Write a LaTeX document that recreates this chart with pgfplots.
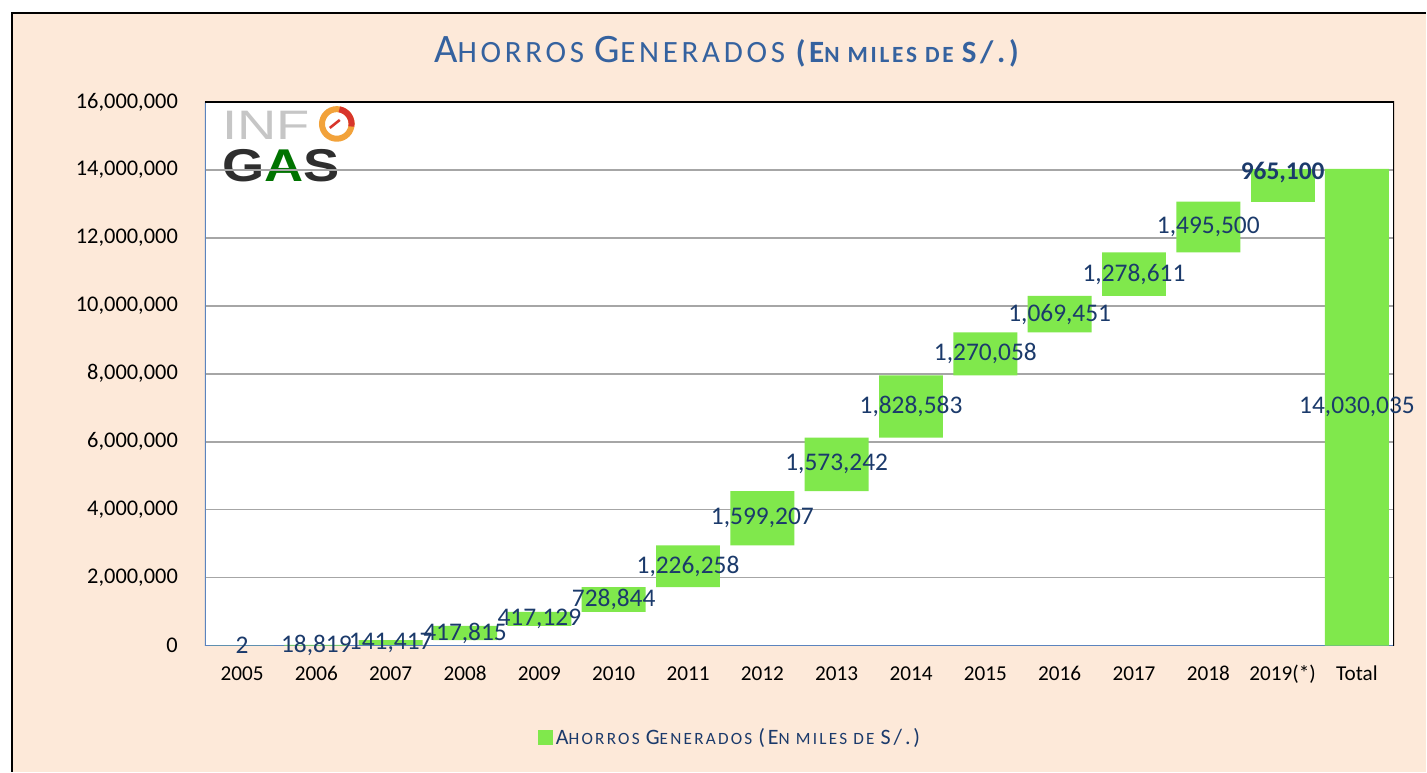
\documentclass[border=0pt]{standalone}
\usepackage{pgfplots}
\pgfplotsset{compat=1.18}
\usepackage{pgfplotstable}
\usepackage{fontspec}
\setmainfont{Carlito}
\newfontfamily\logofont{Liberation Sans}
\newfontfamily\titlefont[LetterSpace=12]{Carlito}
\newfontfamily\legfont[LetterSpace=13]{Carlito}
\definecolor{peach}{HTML}{FDE9D9}
\definecolor{bargreen}{HTML}{80E84C}
\definecolor{navy}{HTML}{1B3A6B}
\definecolor{axblue}{HTML}{5B84BE}
\definecolor{titleblue}{HTML}{35629F}
\definecolor{gridgray}{HTML}{A6A6A6}
\definecolor{logoorange}{HTML}{F2A23A}
\definecolor{logored}{HTML}{D8352B}

\pgfplotstableread{
x base delta mid label
0 0 2 1 2
1 2 18819 9411 18,819
2 18821 141417 89530 141,417
3 160238 417815 369146 417,815
4 578053 417129 786618 417,129
5 995182 728844 1359604 728,844
6 1724026 1226258 2337155 1,226,258
7 2950284 1599207 3749888 1,599,207
8 4549491 1573242 5336112 1,573,242
9 6122733 1828583 7037025 1,828,583
10 7951316 1270058 8586345 1,270,058
11 9221374 1069451 9756100 1,069,451
12 10290825 1278611 10930131 1,278,611
13 11569436 1495500 12317186 1,495,500
15 0 14030035 7015018 14,030,035
}\data

\pgfplotstableread{
x base delta mid label
14 13064936 965100 13920000 965,100
}\datalast

\begin{document}
\begin{tikzpicture}
% background
\fill[white] (0,0) rectangle (713.5pt,-386pt);
\fill[peach] (6pt,-6.5pt) rectangle (713.5pt,-386pt);
\draw[black, line width=0.9pt] (6pt,-386pt) -- (6pt,-6.5pt) -- (713.5pt,-6.5pt);
\useasboundingbox (0,0) rectangle (713.5pt,-386pt);
% plot area
\fill[white] (102.5pt,-51pt) rectangle (697.5pt,-323pt);

% title
\node[text=titleblue] at (363.5pt,-26pt) {\titlefont
{\fontsize{20.2}{24}\selectfont A}{\fontsize{15.5}{20}\selectfont HORROS }%
{\fontsize{20.2}{24}\selectfont G}{\fontsize{15.5}{20}\selectfont ENERADOS }%
{\bfseries\fontsize{15.5}{18}\selectfont (E}{\bfseries\fontsize{11.6}{14}\selectfont N MILES DE }{\bfseries\fontsize{15.5}{18}\selectfont S/.)}};

% logo
\draw[logoorange, line width=3pt] (168.5pt,-62pt) circle (7.4pt);
\draw[logored, line width=3pt] (168.5pt,-62pt) ++(80:7.4pt) arc (80:-10:7.4pt);
\draw[logored, line width=1.3pt] (165pt,-64pt) -- (170pt,-60pt);
\node[anchor=north west, inner sep=0pt, align=left] at (111pt,-55.5pt) {%
\scalebox{1.32}[1]{\color{gray!45}\logofont\fontsize{20.6}{20.6}\selectfont INF}\\[4pt]
\scalebox{1.18}[1]{\color{black!82}\logofont\bfseries\fontsize{23}{23}\selectfont G\textcolor{green!45!black}{A}S}};

\begin{axis}[
  at={(102.5pt,-323pt)}, anchor=south west,
  width=595pt, height=272pt, scale only axis,
  ybar stacked, bar width=32pt,
  xmin=-0.5, xmax=15.5, ymin=0, ymax=16000000,
  ytick={0,2000000,4000000,6000000,8000000,10000000,12000000,14000000,16000000},
  xtick={0,...,15},
  xticklabels={2005,2006,2007,2008,2009,2010,2011,2012,2013,2014,2015,2016,2017,2018,2019(*),Total},
  scaled y ticks=false,
  y tick label style={/pgf/number format/fixed, /pgf/number format/1000 sep={,}, /pgf/number format/assume math mode=true, font=\fontsize{11.2}{13}\selectfont, xshift=-10pt},
  x tick label style={font=\fontsize{10.6}{13}\selectfont, text height=7.6pt, text depth=2.4pt, yshift=-6.5pt},
  major tick length=0pt,
  ymajorgrids, grid style={gridgray, line width=0.8pt},
  axis line style={draw=none},
  legend style={at={(0.442,-0.169)}, anchor=center, draw=none, fill=none,
    font=\color{navy}, legend cell align=left, nodes={inner xsep=1.5pt}},
  legend image code/.code={\fill[bargreen] (0pt,-3.75pt) rectangle (7.5pt,3.75pt);},
]
\addplot[draw=none, fill=none, forget plot] table[x=x, y=base] {\data};
\addplot[fill=bargreen, draw=none] table[x=x, y=delta] {\data};
\addplot[draw=none, fill=none, forget plot] table[x=x, y=base] {\datalast};
\addplot[fill=bargreen, draw=none, forget plot] table[x=x, y=delta] {\datalast};
\addlegendentry{\legfont{\fontsize{11}{14}\selectfont A}{\fontsize{8.6}{12}\selectfont HORROS }{\fontsize{11}{14}\selectfont G}{\fontsize{8.6}{12}\selectfont ENERADOS }{\fontsize{11}{14}\selectfont (E}{\fontsize{8.6}{12}\selectfont N MILES DE }{\fontsize{11}{14}\selectfont S/.)}}
\draw[black, line width=1.1pt] (rel axis cs:0,1) -- (rel axis cs:1,1) -- (rel axis cs:1,0);
\draw[axblue, line width=1pt] (rel axis cs:0,1) -- (rel axis cs:0,0) -- (rel axis cs:1,0);
\end{axis}

\begin{axis}[
  at={(102.5pt,-323pt)}, anchor=south west,
  width=595pt, height=272pt, scale only axis,
  xmin=-0.5, xmax=15.5, ymin=0, ymax=16000000,
  hide axis, clip=false,
]
\addplot[draw=none, mark=none, nodes near coords, point meta=explicit symbolic,
  every node near coord/.append style={anchor=center, text=navy, font=\fontsize{12.7}{15}\selectfont}]
  table[x=x, y=mid, meta=label] {\data};
\addplot[draw=none, mark=none, nodes near coords, point meta=explicit symbolic,
  every node near coord/.append style={anchor=center, text=navy, font=\bfseries\fontsize{12.7}{15}\selectfont}]
  table[x=x, y=mid, meta=label] {\datalast};
\end{axis}
\end{tikzpicture}
\end{document}
